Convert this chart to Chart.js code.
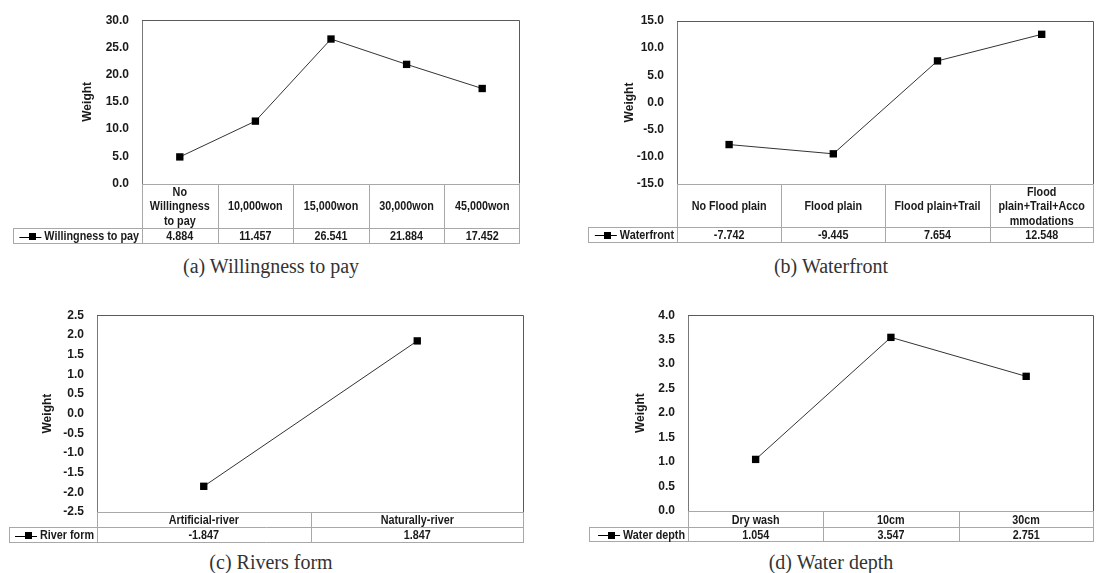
<!DOCTYPE html>
<html><head><meta charset="utf-8">
<script src="https://cdn.jsdelivr.net/npm/chart.js@4.4.1/dist/chart.umd.min.js"></script>
<style>
html,body{margin:0;padding:0;background:#fff;width:1099px;height:573px;overflow:hidden;position:relative;}
canvas{position:absolute;}
.cap{position:absolute;font-family:"Liberation Serif","Times New Roman",serif;font-size:20px;color:#333;white-space:nowrap;transform:translate(-50%,-50%);}
</style></head><body>
<canvas id="cA" width="549" height="250" style="left:0px;top:0px"></canvas>
<canvas id="cB" width="550" height="250" style="left:549px;top:0px"></canvas>
<canvas id="cC" width="549" height="255" style="left:0px;top:295px"></canvas>
<canvas id="cD" width="550" height="255" style="left:549px;top:295px"></canvas>
<div class="cap" style="left:271px;top:266px">(a) Willingness to pay</div>
<div class="cap" style="left:831px;top:266px">(b) Waterfront</div>
<div class="cap" style="left:271px;top:562px">(c) Rivers form</div>
<div class="cap" style="left:831px;top:562px">(d) Water depth</div>
<script>
// ---- data ----
const wtpCategories = [['No', 'Willingness', 'to pay'], '10,000won', '15,000won', '30,000won', '45,000won'];
const wtpValues = [4.884, 11.457, 26.541, 21.884, 17.452];
const wtpTicks = [0, 5, 10, 15, 20, 25, 30];
const wtpSeries = 'Willingness to pay';

const waterfrontCategories = ['No Flood plain', 'Flood plain', 'Flood plain+Trail', ['Flood', 'plain+Trail+Acco', 'mmodations']];
const waterfrontValues = [-7.742, -9.445, 7.654, 12.548];
const waterfrontTicks = [-15, -10, -5, 0, 5, 10, 15];
const waterfrontSeries = 'Waterfront';

const riverCategories = ['Artificial-river', 'Naturally-river'];
const riverValues = [-1.847, 1.847];
const riverTicks = [-2.5, -2, -1.5, -1, -0.5, 0, 0.5, 1, 1.5, 2, 2.5];
const riverSeries = 'River form';

const depthCategories = ['Dry wash', '10cm', '30cm'];
const depthValues = [1.054, 3.547, 2.751];
const depthTicks = [0, 0.5, 1, 1.5, 2, 2.5, 3, 3.5, 4];
const depthSeries = 'Water depth';

// ---- styling ----
const FAM = "'Liberation Sans', Arial, sans-serif";
const TXT = '#1a1a1a';
const SX = 0.83; // horizontal condensing of table text

function narrowText(ctx, t, x, y, align) {
  ctx.save();
  ctx.translate(x, y);
  ctx.scale(SX, 1);
  ctx.textAlign = align;
  ctx.fillText(t, 0, 0);
  ctx.restore();
}

const tablePlugin = {
  id: 'dataTable',
  afterDraw(chart, args, opts) {
    const ctx = chart.ctx, a = chart.chartArea, xs = chart.scales.x;
    const labels = chart.data.labels, ds = chart.data.datasets[0];
    const n = labels.length, bw = (a.right - a.left) / n;
    const y0 = a.bottom, y1 = y0 + opts.catH, y2 = y1 + opts.valH;
    ctx.save();
    // plot frame top/right
    ctx.strokeStyle = '#5a5a5a'; ctx.lineWidth = 1;
    ctx.beginPath();
    ctx.moveTo(a.left, Math.round(a.top) + 0.5);
    ctx.lineTo(Math.round(a.right) - 0.5, Math.round(a.top) + 0.5);
    ctx.lineTo(Math.round(a.right) - 0.5, y0);
    ctx.stroke();
    // table grid
    ctx.strokeStyle = '#a8a8a8';
    ctx.beginPath();
    const ry = v => Math.round(v) + 0.5;
    ctx.moveTo(a.left, ry(y0)); ctx.lineTo(a.right, ry(y0));
    ctx.moveTo(opts.legendLeft, ry(y1)); ctx.lineTo(a.right, ry(y1));
    ctx.moveTo(opts.legendLeft, ry(y2)); ctx.lineTo(a.right, ry(y2));
    for (let i = 0; i <= n; i++) {
      let x = Math.round(a.left + i * bw) + 0.5;
      if (i === n) x = Math.round(a.right) - 0.5;
      ctx.moveTo(x, ry(y0)); ctx.lineTo(x, ry(y2));
    }
    ctx.moveTo(opts.legendLeft + 0.5, ry(y1)); ctx.lineTo(opts.legendLeft + 0.5, ry(y2));
    ctx.stroke();
    // texts
    ctx.fillStyle = TXT;
    ctx.font = 'bold 13px ' + FAM;
    ctx.textBaseline = 'middle';
    const lh = opts.lineH;
    for (let i = 0; i < n; i++) {
      const cx = xs.getPixelForValue(i);
      const lines = Array.isArray(labels[i]) ? labels[i] : [labels[i]];
      const cy = (y0 + y1) / 2 + 1;
      lines.forEach((t, k) => narrowText(ctx, t, cx, cy + (k - (lines.length - 1) / 2) * lh, 'center'));
      narrowText(ctx, ds.data[i].toFixed(3), cx, (y1 + y2) / 2 + 1, 'center');
    }
    // legend cell
    const name = ds.label;
    const tx = a.left - 3;
    const ym = (y1 + y2) / 2 + 1;
    narrowText(ctx, name, tx, ym, 'right');
    const w = ctx.measureText(name).width * SX;
    const ts = tx - w;
    ctx.strokeStyle = '#000'; ctx.lineWidth = 1;
    ctx.beginPath(); ctx.moveTo(ts - 25, Math.round(ym) + 0.5); ctx.lineTo(ts - 3, Math.round(ym) + 0.5); ctx.stroke();
    ctx.fillStyle = '#000';
    ctx.fillRect(Math.round(ts - 12 - 3.5), Math.round(ym - 3.5), 7, 7);
    ctx.restore();
  }
};

function makeChart(id, cats, vals, ticks, series, cfg) {
  const cv = document.getElementById(id);
  return new Chart(cv, {
    type: 'line',
    data: {
      labels: cats,
      datasets: [{
        label: series,
        data: vals,
        borderColor: '#333',
        borderWidth: 1,
        pointStyle: 'rect',
        pointRadius: 5.2,
        pointHoverRadius: 5.2,
        pointBackgroundColor: '#000',
        pointBorderWidth: 0,
        tension: 0,
        clip: false
      }]
    },
    options: {
      responsive: false,
      animation: false,
      events: [],
      layout: { padding: { left: 0, top: cfg.top, right: cv.width - cfg.right, bottom: cv.height - cfg.bottom } },
      plugins: { legend: { display: false }, tooltip: { enabled: false }, dataTable: cfg.table },
      scales: {
        x: { type: 'category', offset: true, display: false },
        y: {
          min: ticks[0], max: ticks[ticks.length - 1],
          afterBuildTicks: s => { s.ticks = ticks.map(v => ({ value: v })); },
          afterFit: s => { s.width = cfg.left; },
          grid: { display: false, drawTicks: false },
          border: { display: true, color: '#777', width: 1, dash: [2, 2] },
          ticks: {
            padding: 13, color: TXT,
            font: { family: FAM, size: 12, weight: 'bold' },
            callback: v => Number(v).toFixed(1)
          },
          title: {
            display: true, text: 'Weight', color: TXT,
            font: { family: FAM, size: 12, weight: 'bold' },
            padding: { top: cfg.titleX - 7.2, bottom: 0 }
          }
        }
      }
    },
    plugins: [tablePlugin]
  });
}

makeChart('cA', wtpCategories, wtpValues, wtpTicks, wtpSeries,
  { left: 142, top: 17, right: 520, bottom: 183.5, titleX: 88,
    table: { catH: 44.5, valH: 15, legendLeft: 13, lineH: 14.5 } });
makeChart('cB', waterfrontCategories, waterfrontValues, waterfrontTicks, waterfrontSeries,
  { left: 128, top: 21, right: 549, bottom: 184, titleX: 81,
    table: { catH: 43, valH: 14.5, legendLeft: 39, lineH: 14.5 } });
makeChart('cC', riverCategories, riverValues, riverTicks, riverSeries,
  { left: 97, top: 20, right: 524, bottom: 217, titleX: 48,
    table: { catH: 15, valH: 15, legendLeft: 9, lineH: 14.5 } });
makeChart('cD', depthCategories, depthValues, depthTicks, depthSeries,
  { left: 139, top: 20, right: 549, bottom: 216, titleX: 92,
    table: { catH: 16, valH: 14, legendLeft: 40, lineH: 14.5 } });
</script>
</body></html>
